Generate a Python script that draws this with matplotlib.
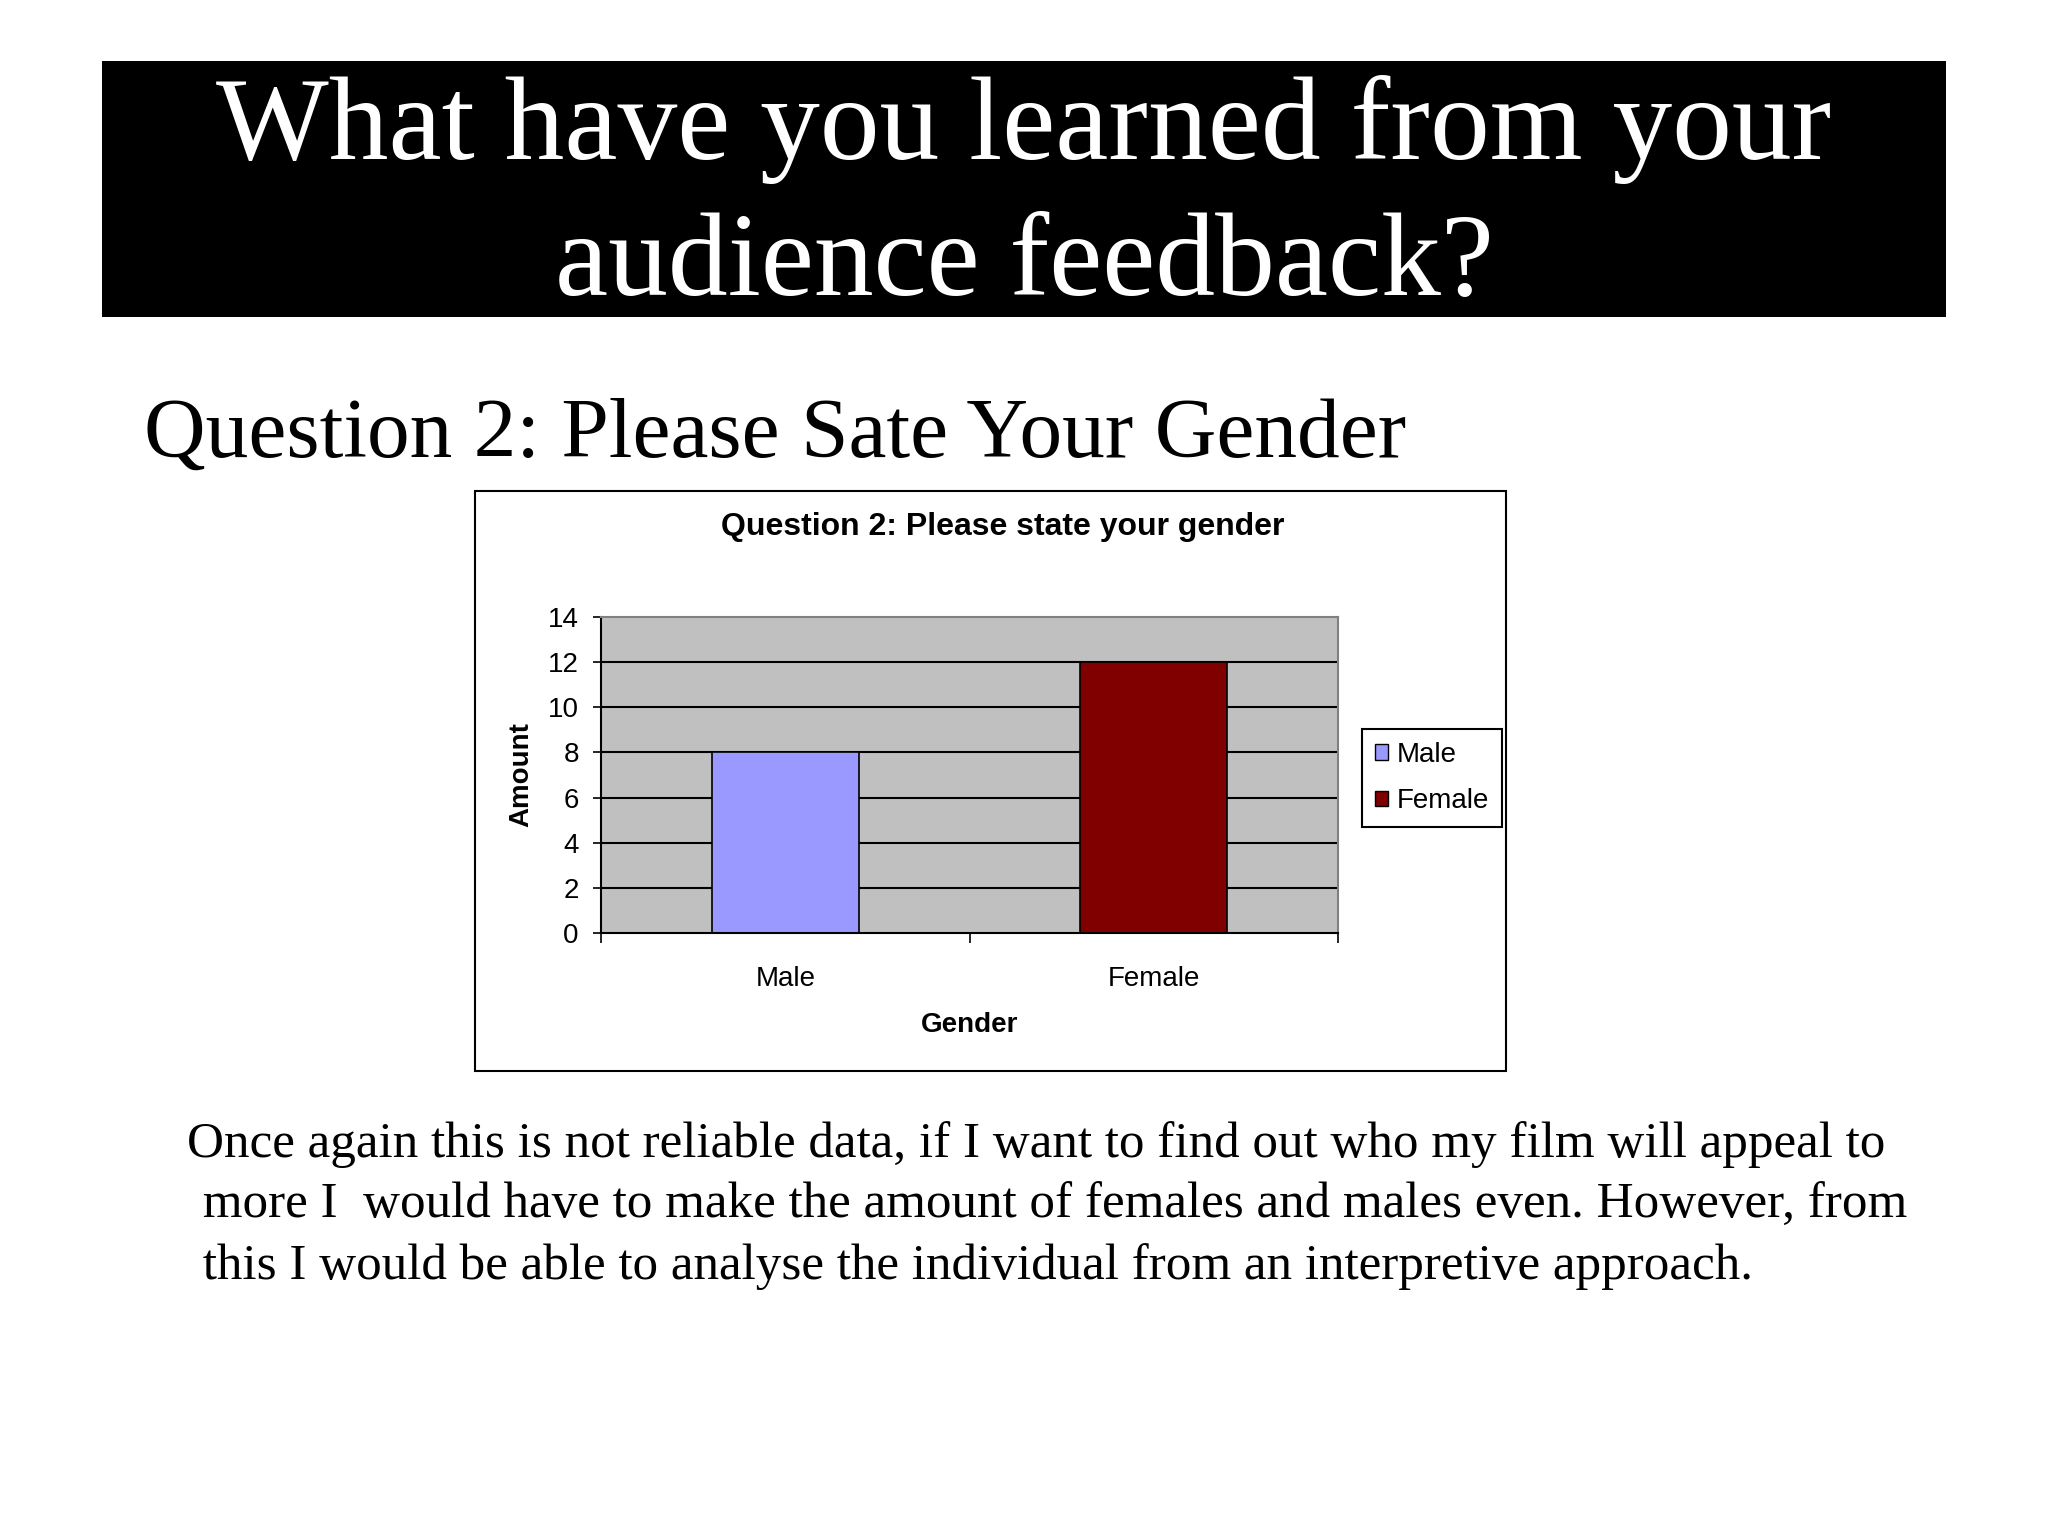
import matplotlib
matplotlib.use("Agg")
import matplotlib.pyplot as plt
from matplotlib.patches import Rectangle, Patch

categories = ["Male", "Female"]
amounts = [8, 12]
bar_colors = ["#9999FF", "#800000"]
yticks = [0, 2, 4, 6, 8, 10, 12, 14]

slide_title = ["What have you learned from your", "audience feedback?"]
heading = "Question 2: Please Sate Your Gender"
chart_title = "Question 2: Please state your gender"
body_lines = [
    "Once again this is not reliable data, if I want to find out who my film will appeal to",
    " more I  would have to make the amount of females and males even. However, from",
    " this I would be able to analyse the individual from an interpretive approach.",
]

W, H = 2048, 1536
fig = plt.figure(figsize=(W / 100, H / 100), dpi=100)
fig.patch.set_facecolor("white")

def fx(px):
    return px / W

def fy(py):
    return 1 - py / H

# Black title banner
fig.add_artist(Rectangle((fx(102), fy(317)), fx(1946) - fx(102), fy(61) - fy(317),
                         transform=fig.transFigure, facecolor="black", edgecolor="none"))
fig.text(0.5, fy(159), slide_title[0], color="white", family="Liberation Serif",
         fontsize=86, ha="center", va="baseline")
fig.text(0.5, fy(295), slide_title[1], color="white", family="Liberation Serif",
         fontsize=86, ha="center", va="baseline")

fig.text(fx(144), fy(457), heading, color="black", family="Liberation Serif",
         fontsize=61.5, ha="left", va="baseline")

# Chart outer box
fig.add_artist(Rectangle((fx(475), fy(1071)), fx(1506) - fx(475), fy(491) - fy(1071),
                         transform=fig.transFigure, facecolor="white", edgecolor="black",
                         linewidth=1.5, zorder=0))

ax = fig.add_axes([fx(601), fy(933), fx(1338) - fx(601), fy(617) - fy(933)])
ax.set_facecolor("#C0C0C0")
x = list(range(len(categories)))
for yv in yticks[1:-1]:
    ax.axhline(yv, color="black", linewidth=1.5, zorder=1)
bars = ax.bar(x, amounts, width=0.40, color=bar_colors, edgecolor="black",
              linewidth=1.2, zorder=2)
ax.set_xlim(-0.5, 1.5)
ax.set_ylim(0, 14)
ax.set_yticks(yticks)
ax.set_yticklabels([str(v) for v in yticks], family="Liberation Sans", fontsize=20)
ax.tick_params(axis="y", direction="out", length=6, width=1.2, pad=10)
ax.set_xticks(x)
ax.set_xticklabels(categories, family="Liberation Sans", fontsize=20)
ax.tick_params(axis="x", which="major", length=0, pad=24)
ax.set_xticks([-0.5, 0.5, 1.5], minor=True)
ax.tick_params(axis="x", which="minor", direction="out", length=7, width=1.2)
for s in ["left", "bottom"]:
    ax.spines[s].set_color("black")
    ax.spines[s].set_linewidth(1.5)
for s in ["top", "right"]:
    ax.spines[s].set_color("#808080")
    ax.spines[s].set_linewidth(1.5)

ax.set_xlabel("Gender", family="Liberation Sans", fontsize=20, fontweight="bold", labelpad=14)
ax.set_ylabel("Amount", family="Liberation Sans", fontsize=20, fontweight="bold", labelpad=10)

fig.text(fx(1003), fy(527), chart_title, family="Liberation Sans", fontsize=23,
         fontweight="bold", ha="center", va="center")

handles = [Patch(facecolor=c, edgecolor="black", linewidth=1.0) for c in bar_colors]
leg = fig.legend(handles, categories, loc="upper left",
                 bbox_to_anchor=(fx(1362), fy(729)), bbox_transform=fig.transFigure,
                 prop={"family": "Liberation Sans", "size": 20},
                 frameon=True, fancybox=False, edgecolor="black", framealpha=1,
                 handlelength=0.5, handleheight=0.5, handletextpad=0.3,
                 labelspacing=0.75, borderpad=0.45, borderaxespad=0)
leg.get_frame().set_linewidth(1.5)

for i, line in enumerate(body_lines):
    xpx = 187 if i == 0 else 190
    fig.text(fx(xpx), fy(1157 + 61 * i), line, family="Liberation Serif",
             fontsize=36.8, ha="left", va="baseline")

fig.savefig("out.png", dpi=100)
